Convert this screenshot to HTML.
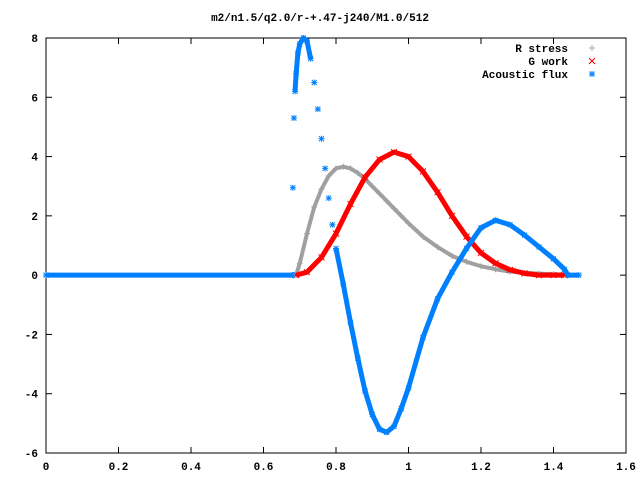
<!DOCTYPE html>
<html><head><meta charset="utf-8"><style>
body{margin:0;background:#fff}
svg text{font-family:"Liberation Mono","DejaVu Sans Mono",monospace;font-size:11px;font-weight:bold}
</style></head><body>
<svg id="chart" width="640" height="480" xmlns="http://www.w3.org/2000/svg">
<text x="320" y="21" text-anchor="middle">m2/n1.5/q2.0/r-+.47-j240/M1.0/512</text>
<g id="grid"></g>
<g id="series"></g>
<g id="legend"></g>
</svg>
<script>
const xTicks=[0,0.2,0.4,0.6,0.8,1,1.2,1.4,1.6];
const xTickLabels=["0","0.2","0.4","0.6","0.8","1","1.2","1.4","1.6"];
const yTicks=[-6,-4,-2,0,2,4,6,8];
const yTickLabels=["-6","-4","-2","0","2","4","6","8"];
const rX=[0.69,0.70,0.72,0.74,0.76,0.78,0.80,0.82,0.84,0.86,0.88,0.90,0.92,0.94,0.96,0.98,1.00,1.04,1.08,1.12,1.16,1.20,1.24,1.28,1.32,1.36,1.40,1.44];
const rY=[0,0.4,1.4,2.3,2.9,3.35,3.6,3.66,3.6,3.45,3.25,3.0,2.75,2.5,2.25,2.0,1.75,1.3,0.95,0.65,0.45,0.3,0.2,0.12,0.08,0.05,0.03,0.02];
const gX=[0.69,0.72,0.76,0.80,0.84,0.88,0.92,0.96,1.00,1.04,1.08,1.12,1.16,1.20,1.24,1.28,1.32,1.36,1.40,1.43];
const gY=[0,0.1,0.6,1.4,2.4,3.3,3.9,4.15,4.0,3.5,2.8,2.0,1.3,0.75,0.4,0.18,0.06,0,0,0];
const aX=[0,0.68,0.681,0.684,0.687,0.69,0.695,0.70,0.71,0.72,0.73,0.74,0.75,0.76,0.77,0.78,0.79,0.80,0.82,0.84,0.86,0.88,0.90,0.92,0.94,0.96,0.98,1.00,1.04,1.08,1.12,1.16,1.20,1.24,1.28,1.32,1.36,1.40,1.43,1.44,1.47];
const aY=[0,0,2.95,5.3,6.2,6.8,7.5,7.8,8.0,7.9,7.3,6.5,5.6,4.6,3.6,2.6,1.7,0.9,-0.3,-1.6,-2.8,-3.9,-4.7,-5.2,-5.3,-5.1,-4.5,-3.8,-2.1,-0.8,0.1,0.9,1.6,1.85,1.7,1.35,0.95,0.55,0.2,0,0];
const L=46,R=626,T=38,B=453,x0=0,x1=1.6,y0=-6,y1=8;
const sx=v=>L+(v-x0)/(x1-x0)*(R-L);
const sy=v=>B-(v-y0)/(y1-y0)*(B-T);
const NS="http://www.w3.org/2000/svg";
function mk(tag,attrs,parent){const e=document.createElementNS(NS,tag);for(const k in attrs)e.setAttribute(k,attrs[k]);parent.appendChild(e);return e;}
const grid=document.getElementById('grid');
const frame=mk('rect',{x:L,y:T,width:R-L,height:B-T,fill:'none',stroke:'#000','stroke-width':1},grid);


xTicks.forEach((t,i)=>{const x=sx(t);
 mk('line',{x1:x,x2:x,y1:B,y2:B-6,stroke:'#000'},grid);
 mk('line',{x1:x,x2:x,y1:T,y2:T+6,stroke:'#000'},grid);
 const tx=mk('text',{x:x,y:B+17,'text-anchor':'middle'},grid);tx.textContent=xTickLabels[i];
 
 });
yTicks.forEach((t,i)=>{const y=sy(t);
 mk('line',{x1:L,x2:L+6,y1:y,y2:y,stroke:'#000'},grid);
 mk('line',{x1:R,x2:R-6,y1:y,y2:y,stroke:'#000'},grid);
 const tx=mk('text',{x:L-8,y:y+4,'text-anchor':'end'},grid);tx.textContent=yTickLabels[i];
 
 });
const ser=document.getElementById('series');
function marker(type,x,y,c,g){
 if(type==='plus'){mk('path',{d:`M${x-3},${y}h6M${x},${y-3}v6`,stroke:c,fill:'none'},g);}
 else if(type==='cross'){mk('path',{d:`M${x-3},${y-3}l6,6M${x-3},${y+3}l6,-6`,stroke:c,fill:'none'},g);}
 else{mk('path',{d:`M${x-3},${y}h6M${x},${y-3}v6M${x-2.5},${y-2.5}l5,5M${x-2.5},${y+2.5}l5,-5`,stroke:c,fill:'none'},g);}
}
function drawSeries(name,X,Y,c,w,type){
 const g=mk('g',{},ser);
 
 
 let d='';
 for(let i=0;i<X.length;i++){
  const x=sx(X[i]),y=sy(Y[i]);
  if(i===0){d+=`M${x},${y}`;continue;}
  const px=sx(X[i-1]),py=sy(Y[i-1]);
  const dist=Math.hypot(x-px,y-py);
  const dx=Math.abs(x-px);
  d+=(dist>22&&dx<5)?`M${x},${y}`:`L${x},${y}`;
 }
 mk('path',{d:d,fill:'none',stroke:c,'stroke-width':w,'stroke-linejoin':'round'},g);
 X.forEach((v,i)=>marker(type,sx(v),sy(Y[i]),c,g));
}
drawSeries('r-stress-series',rX,rY,'#a0a0a0',4,'plus');
drawSeries('g-work-series',gX,gY,'#ff0000',5,'cross');
drawSeries('acoustic-flux-series',aX,aY,'#0080ff',5,'star');
const lg=document.getElementById('legend');
[['R stress','#a0a0a0','plus'],['G work','#ff0000','cross'],['Acoustic flux','#0080ff','star']].forEach((d,i)=>{
 const y=48+i*13;
 const t=mk('text',{x:568,y:y+4,'text-anchor':'end'},lg);t.textContent=d[0];
 
 
 marker(d[2],592,y,d[1],lg);
});
</script>
</body></html>
